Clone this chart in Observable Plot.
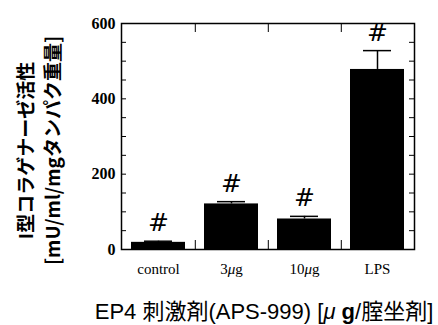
<!DOCTYPE html>
<html><head><meta charset="utf-8">
<script src="https://cdn.jsdelivr.net/npm/d3@7"></script>
<script src="https://cdn.jsdelivr.net/npm/@observablehq/plot@0.6"></script>
<style>
body{margin:0;background:#fff;}
#cap{width:348px;padding-left:90px;height:30px;line-height:33px;text-align:center;font-family:"Liberation Sans","Noto Sans CJK JP",sans-serif;font-size:22px;color:#000;white-space:nowrap;}
</style></head><body>
<div id="chart"></div>
<div id="cap">EP4 刺激剤(APS-999) [<i>μ</i> <b>g</b>/腟坐剤]</div>
<script>
const categories = ["control", "3μg", "10μg", "LPS"];
const values = [19, 121, 81, 478];
const errors = [3, 6, 7, 50];
const sigMarks = ["#", "#", "#", "#"];
const yTicks = [0, 50, 100, 150, 200, 250, 300, 350, 400, 450, 500, 550, 600];
const yLabels = [0, 200, 400, 600];
const yTitle = "I型コラゲナーゼ活性\n[mU/ml/mgタンパク重量]";

const data = categories.map((c, i) => ({cat: c, value: values[i], err: errors[i], mark: sigMarks[i]}));

const W = 438, H = 295, ml = 121, mr = 24, mt = 23, mb = 46;
const pi = 0.26, po = 0.12;
const step = (W - ml - mr) / (categories.length - pi + 2 * po);

const plot = Plot.plot({
  width: W, height: H,
  marginLeft: ml, marginRight: mr, marginTop: mt, marginBottom: mb,
  style: {background: "#fff", overflow: "visible"},
  x: {domain: categories, paddingInner: pi, paddingOuter: po, axis: null},
  y: {domain: [0, 600], axis: null},
  marks: [
    Plot.barY(data, {x: "cat", y: "value", fill: "black"}),
    Plot.ruleX(data, {x: "cat", y1: "value", y2: d => d.value + d.err, stroke: "black", strokeWidth: 1.5}),
    Plot.tickY(data, {x: "cat", y: d => d.value + d.err, stroke: "black", strokeWidth: 1.5, insetLeft: 13, insetRight: 13}),
    Plot.text(data, {x: "cat", y: d => d.value + d.err, text: "mark", dy: -18, fontSize: 25, fontFamily: "DejaVu Sans", fill: "black"}),
    Plot.frame({stroke: "black", strokeWidth: 1.5}),
    Plot.axisY({anchor: "left", ticks: yTicks, tickSize: -5, tickPadding: 11, tickFormat: d => yLabels.includes(d) ? String(d) : "", fontSize: 16, fontFamily: "Liberation Serif", fontWeight: "bold", label: null}),
    Plot.axisY({anchor: "right", ticks: yTicks, tickSize: -6, tickFormat: () => "", label: null}),
    Plot.axisX({anchor: "bottom", ticks: categories.slice(0, 3), tickSize: -9, dx: step / 2, tickFormat: () => "", label: null}),
    Plot.axisX({anchor: "top", ticks: categories.slice(0, 3), tickSize: -8, dx: step / 2, tickFormat: () => "", label: null}),
    Plot.axisX({anchor: "bottom", tickSize: 0, tickPadding: 14, fontSize: 15, fontFamily: "Liberation Serif", label: null}),
    Plot.text([yTitle], {frameAnchor: "left", textAnchor: "middle", rotate: -90, dx: -84, dy: 14, text: d => d, lineHeight: 1.42, fontSize: 19, fontWeight: "bold", fontFamily: "Noto Sans CJK JP", fill: "black"})
  ]
});
d3.select(plot).selectAll("text").filter(function() { return this.textContent.includes("μ") && !this.textContent.includes("\n") && this.childElementCount === 0; })
  .each(function() {
    const t = this.textContent;
    const parts = t.split("μ");
    const sel = d3.select(this);
    sel.text(null);
    sel.append("tspan").text(parts[0]);
    sel.append("tspan").attr("font-style", "italic").text("μ");
    sel.append("tspan").text(parts[1]);
  });
document.getElementById("chart").appendChild(plot);
</script>
</body></html>
